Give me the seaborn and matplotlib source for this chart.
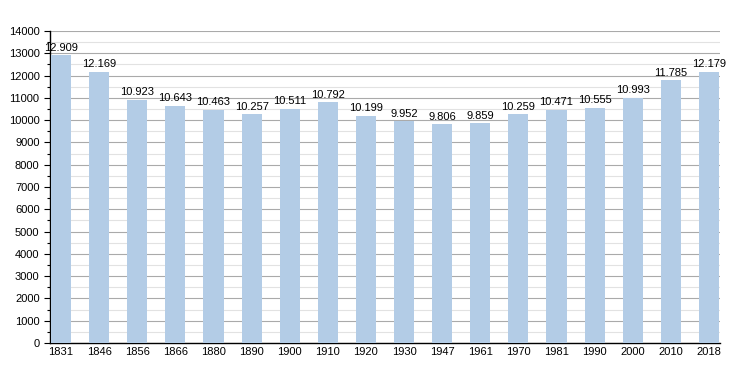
import matplotlib
matplotlib.use("Agg")
import matplotlib.pyplot as plt
import seaborn as sns
import pandas as pd
from matplotlib.ticker import MultipleLocator

years = ["1831", "1846", "1856", "1866", "1880", "1890", "1900", "1910", "1920",
         "1930", "1947", "1961", "1970", "1981", "1990", "2000", "2010", "2018"]
population = [12909, 12169, 10923, 10643, 10463, 10257, 10511, 10792, 10199,
              9952, 9806, 9859, 10259, 10471, 10555, 10993, 11785, 12179]

df = pd.DataFrame({"year": years, "population": population})

sns.set_style("white")
plt.rcParams["font.family"] = ["Liberation Sans", "DejaVu Sans"]
plt.rcParams["text.color"] = "black"
plt.rcParams["xtick.color"] = "black"
plt.rcParams["ytick.color"] = "black"

fig = plt.figure(figsize=(7.5, 3.73), dpi=100)
ax = fig.add_axes([50/750, 1-343/373, 670/750, 312/373])

sns.barplot(data=df, x="year", y="population", color="#b3cce6", width=0.53,
            saturation=1, ax=ax, zorder=3, edgecolor="none")

ax.set_ylim(0, 14000)
ax.set_xlim(-0.29, len(years) - 1 + 0.29)
ax.yaxis.set_major_locator(MultipleLocator(1000))
ax.yaxis.set_minor_locator(MultipleLocator(500))
ax.grid(which="major", axis="y", color="#aaaaaa", linewidth=0.8, zorder=0)
ax.grid(which="minor", axis="y", color="#e2e2e2", linewidth=0.8, zorder=0)
ax.set_axisbelow(True)

for s in ["top", "right"]:
    ax.spines[s].set_visible(False)
ax.spines["left"].set_color("black")
ax.spines["bottom"].set_color("black")
ax.spines["left"].set_linewidth(1)
ax.spines["bottom"].set_linewidth(1)

ax.tick_params(axis="y", which="major", length=4, width=0.8, labelsize=8,
               direction="out", left=True, colors="black")
ax.tick_params(axis="y", which="minor", length=2, width=0.8, left=True, colors="black")
ax.tick_params(axis="x", length=0, labelsize=8, pad=3, colors="black")

ax.set_xlabel("")
ax.set_ylabel("")

for i, v in enumerate(population):
    label = f"{v:,}".replace(",", ".")
    ax.text(i, v + 120, label, ha="center", va="bottom", fontsize=8,
            color="black", zorder=4)

fig.savefig("out.png", dpi=100)
